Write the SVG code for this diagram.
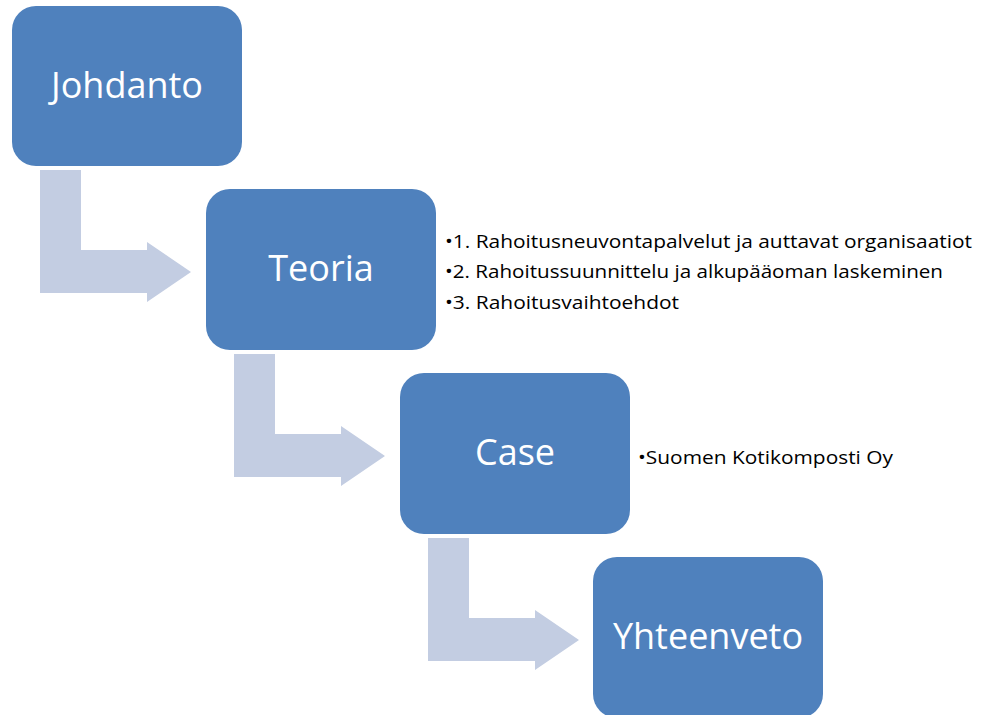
<svg xmlns="http://www.w3.org/2000/svg" width="990" height="715" viewBox="0 0 990 715">
<style>
.box{fill:#4F81BD;}
.arrow{fill:#C3CDE2;}
.title{font-family:"Open Sans","Liberation Sans",sans-serif;font-size:36px;fill:#FFFFFF;text-anchor:middle;}
.bullet{font-family:"Open Sans","Liberation Sans",sans-serif;font-size:17.5px;fill:#000000;}
</style>
<rect width="990" height="715" fill="#FFFFFF"/>
<g id="connectors">
<path class="arrow" d="M40,170 H81 V250 H147 V242 L191,272 L147,302 V293 H40 Z"/>
<path class="arrow" d="M234,354 H275 V434 H341 V426 L385,456 L341,486 V477 H234 Z"/>
<path class="arrow" d="M428,538 H469 V618 H535 V610 L579,640 L535,670 V661 H428 Z"/>
</g>
<g id="johdanto">
<rect class="box" x="12" y="6" width="230" height="160" rx="24"/>
<text class="title" x="127" y="98">Johdanto</text>
</g>
<g id="teoria">
<rect class="box" x="206" y="189" width="230" height="161" rx="24"/>
<text class="title" x="321" y="281">Teoria</text>
<text class="bullet" x="445" y="248" textLength="527" lengthAdjust="spacingAndGlyphs">•1. Rahoitusneuvontapalvelut ja auttavat organisaatiot</text>
<text class="bullet" x="445" y="278" textLength="498" lengthAdjust="spacingAndGlyphs">•2. Rahoitussuunnittelu ja alkupääoman laskeminen</text>
<text class="bullet" x="445" y="309" textLength="234" lengthAdjust="spacingAndGlyphs">•3. Rahoitusvaihtoehdot</text>
</g>
<g id="case">
<rect class="box" x="400" y="373" width="230" height="161" rx="24"/>
<text class="title" x="515" y="465">Case</text>
<text class="bullet" x="638" y="464" textLength="255" lengthAdjust="spacingAndGlyphs">•Suomen Kotikomposti Oy</text>
</g>
<g id="yhteenveto">
<rect class="box" x="593" y="557" width="230" height="161" rx="24"/>
<text class="title" x="708" y="649">Yhteenveto</text>
</g>
</svg>
